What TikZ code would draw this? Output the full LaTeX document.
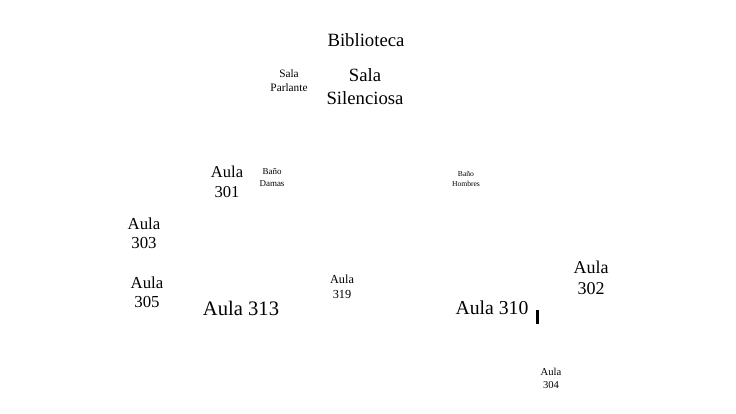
\documentclass[tikz,border=0pt]{standalone}
\usepackage{fontspec}
\setmainfont{Liberation Serif}
\newcommand{\fs}[2]{\fontsize{#1pt}{#2pt}\selectfont}
\begin{document}
\begin{tikzpicture}[x=1pt,y=-1pt,
  lbl/.style={inner sep=0pt,align=center,text=black}]
\useasboundingbox[fill=white] (0,0) rectangle (736,414);
\node[lbl,font=\fs{18.7}{23}] (bib) at (366,40) {Biblioteca};
\node[lbl,font=\fs{18.7}{23}] (silen) at (365,87) {Sala\\Silenciosa};
\node[lbl,font=\fs{11.3}{14}] (parl) at (289,81) {Sala\\Parlante};
\node[lbl,font=\fs{16.6}{20}] (a301) at (227,182) {Aula\\301};
\node[lbl,font=\fs{9}{11.5}] (damas) at (272,177.5) {Baño\\Damas};
\node[lbl,font=\fs{7.6}{10}] (hombres) at (466,179) {Baño\\Hombres};
\node[lbl,font=\fs{16.8}{19.5}] (a303) at (144,233.5) {Aula\\303};
\node[lbl,font=\fs{16.8}{19.5}] (a305) at (147,292.5) {Aula\\305};
\node[lbl,font=\fs{20.6}{24}] (a313) at (241,308) {Aula 313};
\node[lbl,font=\fs{12.3}{15}] (a319) at (342,286.5) {Aula\\319};
\node[lbl,font=\fs{19.7}{24}] (a310) at (492,308) {Aula 310};
\node[lbl,font=\fs{18}{21}] (a302) at (591,277.5) {Aula\\302};
\node[lbl,font=\fs{10.6}{13}] (a304) at (551,378.5) {Aula\\304};
\coordinate (mt) at (537.5,310);
\coordinate (mb) at (537.5,324);
\draw[line width=2.4pt] (mt) -- (mb);
\end{tikzpicture}
\end{document}
